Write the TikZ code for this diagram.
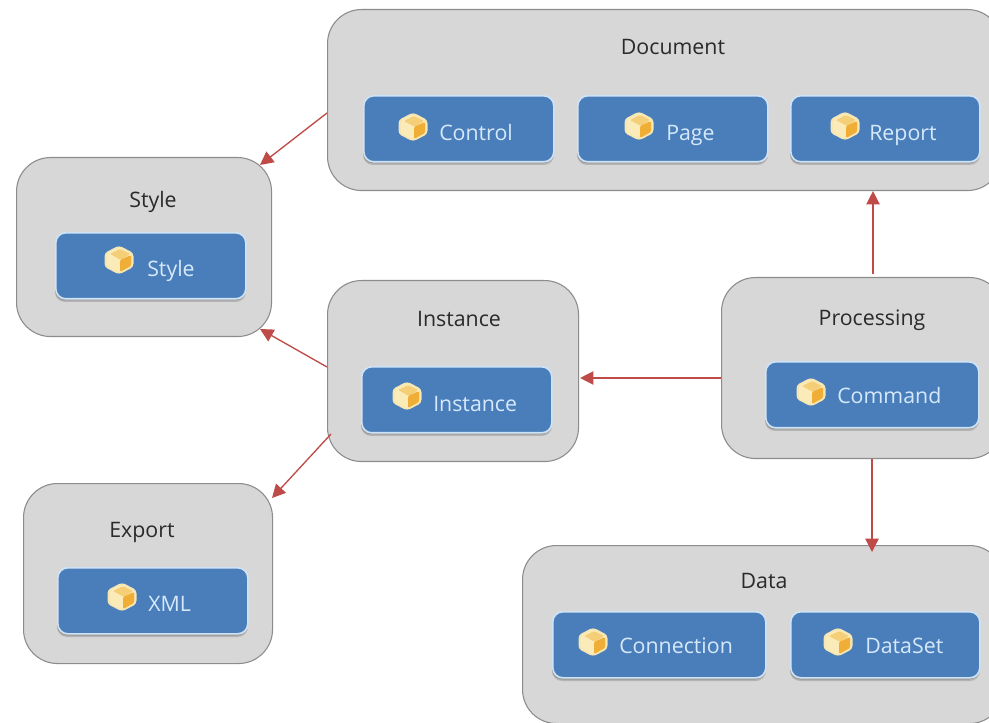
\documentclass[tikz,border=0pt]{standalone}
\usepackage{fontspec}
\setmainfont{Open Sans}
\usetikzlibrary{calc,arrows.meta}
\definecolor{grp}{HTML}{D7D7D7}
\definecolor{grpline}{HTML}{8C8C8C}
\definecolor{inner}{HTML}{4A7EBB}
\definecolor{innerline}{HTML}{CFE3F6}
\definecolor{arrowc}{HTML}{BE4B48}
\definecolor{txt}{HTML}{2A2A2A}
\definecolor{itxt}{HTML}{D6E9FA}
\definecolor{cubehalo}{HTML}{F6E6B4}
\definecolor{cubetop}{HTML}{F4CF78}
\definecolor{cubeleft}{HTML}{FBEBB8}
\definecolor{cuberight}{HTML}{F0AE36}
\tikzset{
  x=0.75pt,y=-0.75pt,
  grpbox/.style={draw=grpline,line width=0.8pt,fill=grp,rounded corners=25.5pt,inner sep=0pt},
  innerbox/.style={draw=innerline,line width=1.2pt,fill=inner,rounded corners=7.5pt,inner sep=0pt},
  shadowbox/.style={fill=black,opacity=0.16,rounded corners=7.5pt},
  grptitle/.style={text=txt,font=\fontsize{16}{19}\selectfont,inner sep=0pt,anchor=base},
  itemtext/.style={text=itxt,font=\fontsize{16}{19}\selectfont,inner sep=0pt,anchor=base west},
  link/.style={draw=arrowc,line width=1pt,-{Triangle[length=10pt,width=10pt,fill=arrowc]}},
  cubeicon/.pic={
    \fill[cubehalo,rounded corners=2.5pt] (0,-14.5) -- (14.5,-7) -- (14.5,7) -- (0,14.5) -- (-14.5,7) -- (-14.5,-7) -- cycle;
    \fill[cubeleft,rounded corners=1.5pt] (0,-12.5) -- (12,-6.5) -- (12,6.5) -- (0,12.5) -- (-12,6.5) -- (-12,-6.5) -- cycle;
    \fill[cubetop,rounded corners=1pt] (1,-11) -- (11,-6) -- (2,0) -- (-9,-6) -- cycle;
    \fill[cuberight,rounded corners=1pt] (1,0) -- (12,-5) -- (12,6) -- (1,12) -- cycle;
  }
}
\newcommand{\grpnode}[5]{% name x1 y1 x2 y2
  \node[grpbox,minimum width={(#4-#2)*0.75pt},minimum height={(#5-#3)*0.75pt},anchor=north west] (#1) at (#2,#3) {};
}
\newcommand{\itemnode}[8]{% name x1 y1 x2 y2 icon-position text-position text
  \fill[shadowbox] (#2,#3+4) rectangle (#4+1,#5+4);
  \fill[shadowbox] (#2,#3+3) rectangle (#4,#5+2.5);
  \node[innerbox,minimum width={(#4-#2)*0.75pt},minimum height={(#5-#3)*0.75pt},anchor=north west] (#1) at (#2,#3) {};
  \pic at #6 {cubeicon};
  \node[itemtext] (#1t) at #7 {#8};
}
\begin{document}
\begin{tikzpicture}
\useasboundingbox (0,0) rectangle (989,723);
\fill[white] (0,0) rectangle (989,723);
\clip (0,0) rectangle (989,723);

\grpnode{doc}{327}{9}{1001}{190}
\grpnode{sty}{16}{157}{271}{336}
\grpnode{ins}{327}{280}{578}{461}
\grpnode{pro}{721}{277}{1003}{458}
\grpnode{exp}{23}{483}{272}{663}
\grpnode{dat}{522}{545}{1003}{723}

\node[grptitle] (doct) at (673,55) {Document};
\node[grptitle] (styt) at (153,208) {Style};
\node[grptitle] (inst) at (459,327) {Instance};
\node[grptitle] (prot) at (872,326) {Processing};
\node[grptitle] (expt) at (142,537) {Export};
\node[grptitle] (datt) at (764,588) {Data};

\itemnode{ctl}{363}{95}{553}{161}{(413,127)}{(439,141)}{Control}
\itemnode{pag}{577}{95}{767}{161}{(639,126)}{(666,141)}{Page}
\itemnode{rep}{790}{95}{979}{161}{(845,126)}{(869,141)}{Report}
\itemnode{sti}{55}{232}{245}{298}{(119,260)}{(147,277)}{Style}
\itemnode{ini}{361}{366}{551}{432}{(407,396)}{(433,412)}{Instance}
\itemnode{cmd}{765}{361}{978}{427}{(811,392)}{(837,404)}{Command}
\itemnode{xml}{57}{567}{247}{633}{(122,597)}{(148,611)}{XML}
\itemnode{con}{552}{611}{765}{677}{(593,642)}{(619,653)}{Connection}
\itemnode{dst}{790}{611}{979}{677}{(838,642)}{(865,653)}{DataSet}

\draw[link] ($(doc.north west)+(0,104)$) -- ($(sty.north west)+(244,8)$);
\draw[link] ($(ins.north west)+(0,87)$) -- ($(sty.north west)+(244,172)$);
\draw[link] ($(ins.north west)+(4,154)$) -- ($(exp.north west)+(249,15)$);
\draw[link] ($(pro.north west)+(0,101)$) -- ($(ins.north east)+(1,98)$);
\draw[link] ($(pro.north west)+(152,-3)$) -- ($(doc.south west)+(546,0)$);
\draw[link] ($(pro.south west)+(151,0)$) -- ($(dat.north west)+(350,7)$);
\end{tikzpicture}
\end{document}
